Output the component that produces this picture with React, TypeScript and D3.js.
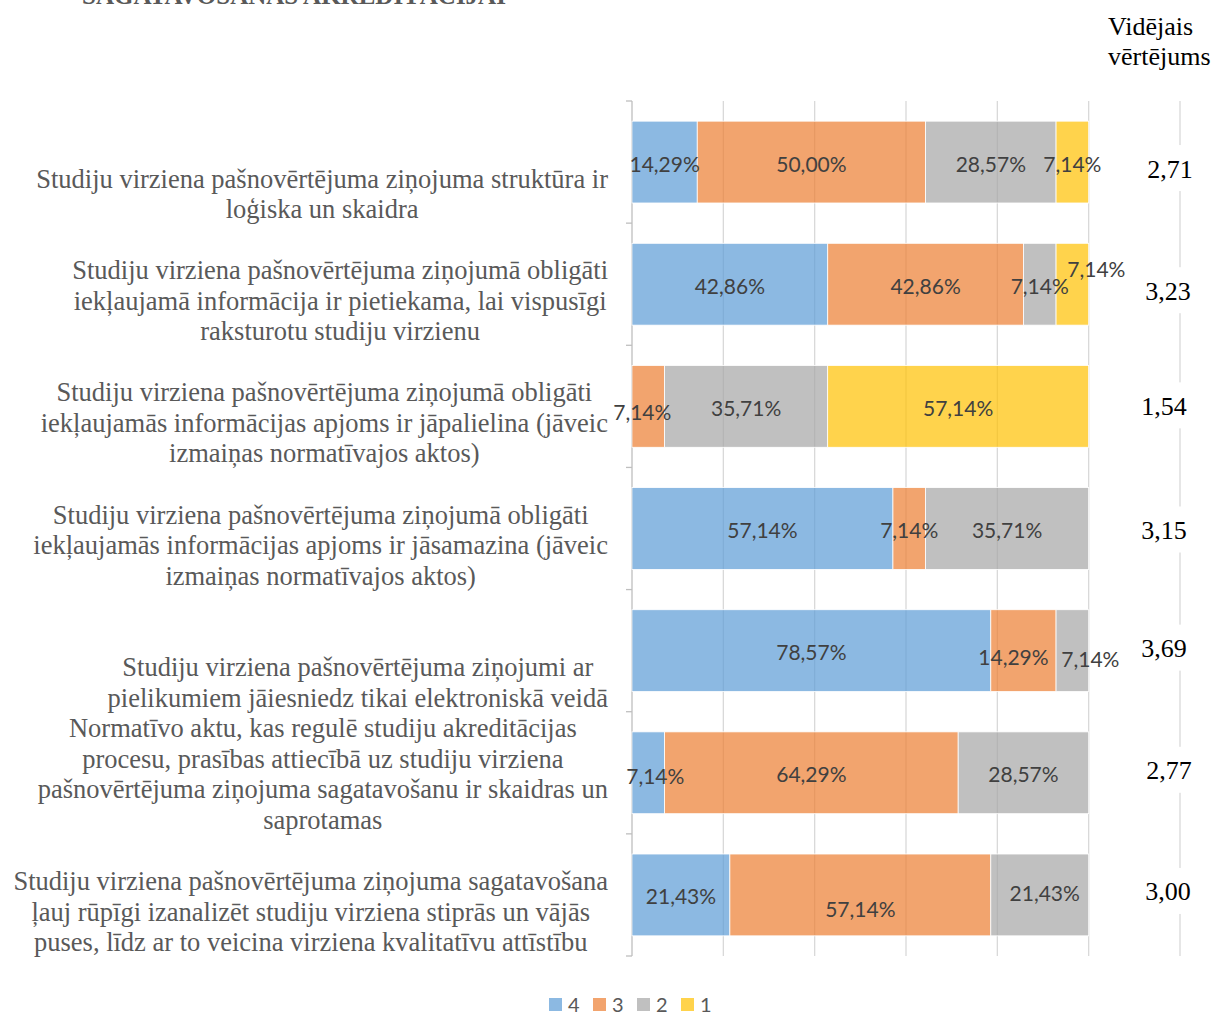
import { useEffect, useRef } from "react";
import * as d3 from "d3";

// kategorijas (jautājumi), katrs sadalīts rindās
const categories: string[][] = [
  ["Studiju virziena pašnovērtējuma ziņojuma struktūra ir", "loģiska un skaidra"],
  [
    "Studiju virziena pašnovērtējuma ziņojumā obligāti",
    "iekļaujamā informācija ir pietiekama, lai vispusīgi",
    "raksturotu studiju virzienu",
  ],
  [
    "Studiju virziena pašnovērtējuma ziņojumā obligāti",
    "iekļaujamās informācijas apjoms ir jāpalielina (jāveic",
    "izmaiņas normatīvajos aktos)",
  ],
  [
    "Studiju virziena pašnovērtējuma ziņojumā obligāti",
    "iekļaujamās informācijas apjoms ir jāsamazina (jāveic",
    "izmaiņas normatīvajos aktos)",
  ],
  ["Studiju virziena pašnovērtējuma ziņojumi ar", "pielikumiem jāiesniedz tikai elektroniskā veidā"],
  [
    "Normatīvo aktu, kas regulē studiju akreditācijas",
    "procesu, prasības attiecībā uz studiju virziena",
    "pašnovērtējuma ziņojuma sagatavošanu ir skaidras un",
    "saprotamas",
  ],
  [
    "Studiju virziena pašnovērtējuma ziņojuma sagatavošana",
    "ļauj rūpīgi izanalizēt studiju virziena stiprās un vājās",
    "puses, līdz ar to veicina virziena kvalitatīvu attīstību",
  ],
];

const seriesKeys = ["4", "3", "2", "1"];
const seriesColors = ["#5B9BD5", "#ED7D31", "#A5A5A5", "#FFC000"];

// procenti pēc vērtējuma 4, 3, 2, 1
const score4 = [14.29, 42.86, 0, 57.14, 78.57, 7.14, 21.43];
const score3 = [50.0, 42.86, 7.14, 7.14, 14.29, 64.29, 57.14];
const score2 = [28.57, 7.14, 35.71, 35.71, 7.14, 28.57, 21.43];
const score1 = [7.14, 7.14, 57.14, 0, 0, 0, 0];

const averages = ["2,71", "3,23", "1,54", "3,15", "3,69", "2,77", "3,00"];
const xTicks = [0, 20, 40, 60, 80, 100, 120];

// etiķešu pārbīdes (kā Excel manuāli pārvietotās etiķetes) [kategorija, sērija, dx, dy]
const labelNudges: [number, number, number, number][] = [
  [1, 3, 24, -17],
  [2, 1, -6, 4],
  [4, 1, -10, 5],
  [4, 2, 18, 7],
  [5, 0, 7, 2],
  [6, 1, 0, 13],
  [6, 2, 5, -3],
];
// vidējo vērtējumu nelielas pārbīdes [dx, dy]
const avgNudges: [number, number][] = [
  [3, 5], [1, 5], [-3, -2], [-3, 0], [-3, -4], [2, -4], [1, -5],
];

const SERIF = "'Liberation Serif', 'Times New Roman', serif";
const SANS = "Lato, 'Liberation Sans', sans-serif";

const App = () => {
  const svgRef = useRef<SVGSVGElement>(null);

  useEffect(() => {
    if (!svgRef.current) return;
    const svg = d3.select(svgRef.current);
    svg.selectAll("*").remove();

    const width = 1214;
    const height = 1014;
    const plot = { left: 632, right: 1180, top: 101, bottom: 956 };

    svg.attr("width", width).attr("height", height);

    const xScale = d3.scaleLinear().domain([0, 120]).range([plot.left, plot.right]);
    const yScale = d3
      .scaleBand<number>()
      .domain(d3.range(categories.length))
      .range([plot.top, plot.bottom])
      .paddingInner(0.33)
      .paddingOuter(0.165);

    const step = yScale.step();

    // virsraksts (apgriezts augšā)
    svg
      .append("text")
      .attr("x", 82)
      .attr("y", 4)
      .attr("font-family", SERIF)
      .attr("font-weight", "bold")
      .attr("font-size", 25)
      .attr("fill", "#595959")
      .text("SAGATAVOŠANAS AKREDITĀCIJAI");

    // režģa līnijas
    svg
      .append("g")
      .selectAll("line")
      .data(xTicks.slice(1))
      .enter()
      .append("line")
      .attr("x1", (d) => xScale(d))
      .attr("x2", (d) => xScale(d))
      .attr("y1", plot.top)
      .attr("y2", plot.bottom)
      .attr("stroke", "#d9d9d9")
      .attr("stroke-width", 1.3);

    // y ass
    const axis = svg.append("g").attr("stroke", "#bfbfbf").attr("stroke-width", 1.3);
    axis
      .append("line")
      .attr("x1", plot.left)
      .attr("x2", plot.left)
      .attr("y1", plot.top)
      .attr("y2", plot.bottom);
    axis
      .selectAll(".tick")
      .data(d3.range(categories.length + 1))
      .enter()
      .append("line")
      .attr("x1", plot.left - 6)
      .attr("x2", plot.left)
      .attr("y1", (i) => plot.top + i * step)
      .attr("y2", (i) => plot.top + i * step);

    // stabiņi
    const table = categories.map((_, i) => [score4[i], score3[i], score2[i], score1[i]]);
    const stackData = table.map((row, i) => {
      let acc = 0;
      return row.map((v, s) => {
        const seg = { cat: i, series: s, x0: acc, x1: acc + v, value: v };
        acc += v;
        return seg;
      });
    });
    const segments = stackData.flat().filter((d) => d.value > 0);

    svg
      .append("g")
      .selectAll("rect")
      .data(segments)
      .enter()
      .append("rect")
      .attr("x", (d) => xScale(d.x0))
      .attr("width", (d) => xScale(d.x1) - xScale(d.x0))
      .attr("y", (d) => yScale(d.cat)!)
      .attr("height", yScale.bandwidth())
      .attr("fill", (d) => seriesColors[d.series])
      .attr("fill-opacity", 0.7)
      .attr("stroke", "#ffffff")
      .attr("stroke-width", 0.8);

    // datu etiķetes
    const nudge = (c: number, s: number) => {
      const n = labelNudges.find((d) => d[0] === c && d[1] === s);
      return n ? [n[2], n[3]] : [0, 0];
    };
    svg
      .append("g")
      .selectAll("text")
      .data(segments)
      .enter()
      .append("text")
      .attr("x", (d) => (xScale(d.x0) + xScale(d.x1)) / 2 + nudge(d.cat, d.series)[0])
      .attr("y", (d) => yScale(d.cat)! + yScale.bandwidth() / 2 + 1 + nudge(d.cat, d.series)[1])
      .attr("text-anchor", "middle")
      .attr("dominant-baseline", "central")
      .attr("font-family", SANS)
      .attr("font-size", 21)
      .attr("fill", "#404040")
      .text((d) => d.value.toFixed(2).replace(".", ",") + "%");

    // kategoriju nosaukumi: bloks pielīdzināts pa labi, rindas centrētas
    const labelRight = 608;
    const lineH = 30.5;
    const labels = svg.append("g");
    categories.forEach((lines, i) => {
      const g = labels
        .append("g")
        .attr("font-family", SERIF)
        .attr("font-size", 26.5)
        .attr("fill", "#595959");
      const bottom = plot.top + (i + 1) * step - 14;
      const texts = g
        .selectAll("text")
        .data(lines)
        .enter()
        .append("text")
        .attr("y", (_, k) => bottom - (lines.length - 1 - k) * lineH)
        .attr("dominant-baseline", "central")
        .attr("text-anchor", "middle")
        .text((d) => d);
      let maxW = 0;
      texts.each(function () {
        maxW = Math.max(maxW, (this as SVGTextElement).getComputedTextLength());
      });
      texts.attr("x", labelRight - maxW / 2);
    });

    // vidējie vērtējumi
    const avg = svg.append("g");
    avg
      .selectAll("rect")
      .data(averages)
      .enter()
      .append("rect")
      .attr("x", 1138)
      .attr("y", (_, i) => yScale(i)! + yScale.bandwidth() / 2 - 22 + avgNudges[i][1])
      .attr("width", 60)
      .attr("height", 46)
      .attr("fill", "#ffffff");
    avg
      .selectAll("text")
      .data(averages)
      .enter()
      .append("text")
      .attr("x", (_, i) => 1167 + avgNudges[i][0])
      .attr("y", (_, i) => yScale(i)! + yScale.bandwidth() / 2 + 2 + avgNudges[i][1])
      .attr("text-anchor", "middle")
      .attr("dominant-baseline", "central")
      .attr("font-family", SERIF)
      .attr("font-size", 26)
      .attr("fill", "#000000")
      .text((d) => d);

    // kolonnas virsraksts
    const head = svg
      .append("text")
      .attr("font-family", SERIF)
      .attr("font-size", 26)
      .attr("fill", "#000000");
    head.append("tspan").attr("x", 1108).attr("y", 35).text("Vidējais");
    head.append("tspan").attr("x", 1108).attr("y", 65).text("vērtējums");

    // leģenda
    const legendX = [549, 593, 637, 681];
    const legend = svg
      .append("g")
      .selectAll("g")
      .data(seriesKeys)
      .enter()
      .append("g")
      .attr("transform", (_, i) => `translate(${legendX[i]}, 998)`);
    legend
      .append("rect")
      .attr("width", 13)
      .attr("height", 13)
      .attr("fill", (_, i) => seriesColors[i])
      .attr("fill-opacity", 0.7);
    legend
      .append("text")
      .attr("x", 19)
      .attr("y", 6)
      .attr("dominant-baseline", "central")
      .attr("font-family", SANS)
      .attr("font-size", 20)
      .attr("fill", "#595959")
      .text((d) => d);
  }, []);

  return (
    <div style={{ position: "absolute", left: 0, top: 0 }}>
      <svg ref={svgRef}></svg>
    </div>
  );
};

export default App;
